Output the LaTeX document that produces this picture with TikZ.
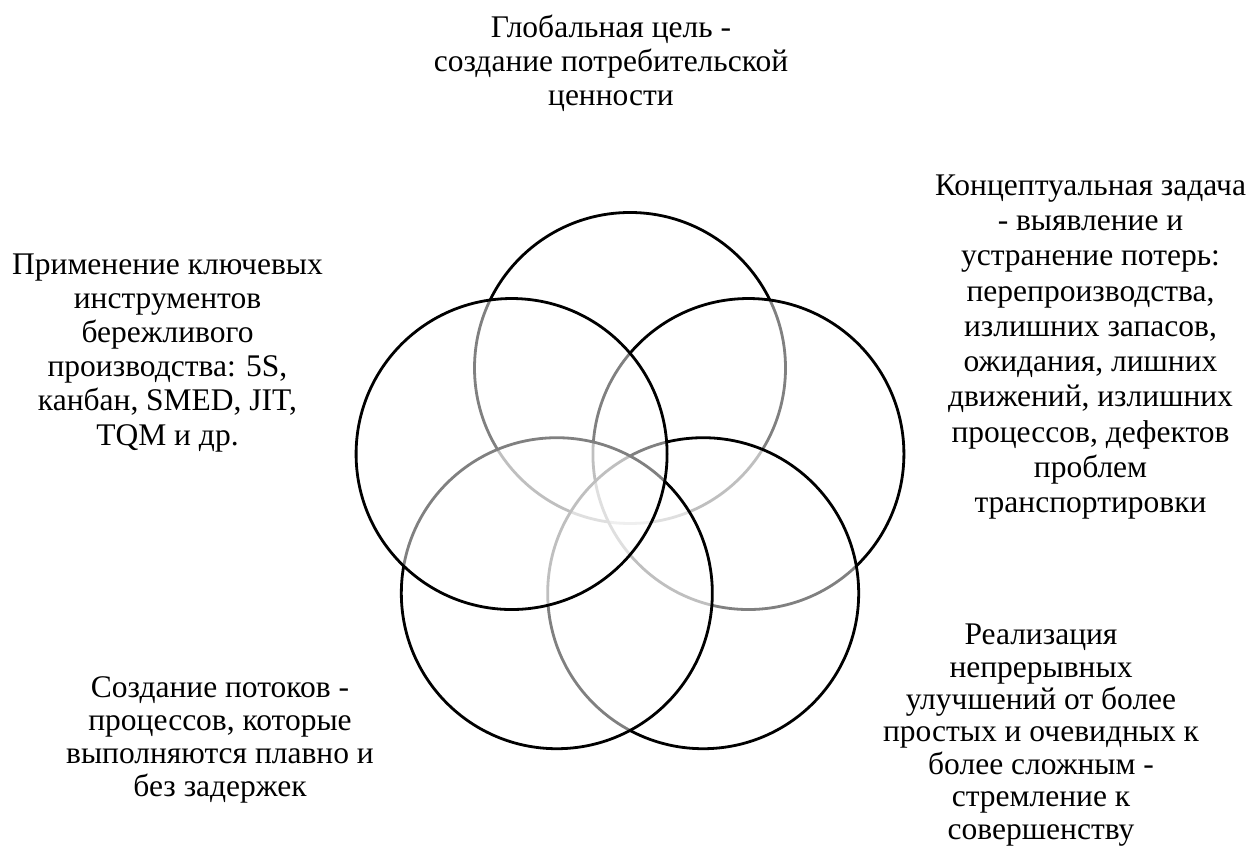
\documentclass[tikz,border=0pt]{standalone}
\usepackage{fontspec}
\setmainfont{Liberation Serif}
\usepackage{tikz}

\begin{document}
\begin{tikzpicture}[x=1pt,y=1pt,
	petal/.style={draw=black,line width=2.8pt,fill=white,fill opacity=0.5},
	lbl/.style={align=center,inner sep=0pt,font=\fontsize{31.5}{#1}\selectfont},
	lbl/.default=34]
	\path[use as bounding box] (0,0) rectangle (1252,848);
	% five circles round a pentagon, each one veiling the ones before it
	\foreach \a in {90,18,-54,-126,162}
		\draw[petal,shift={(630,355.5)}] (\a:124.5) circle (155.5);
	% labels
	\node[lbl=34] (goal) at (611,784.5) {Глобальная цель -\\создание потребительской\\ценности};
	\node[lbl=35.3] (waste) at (1090.5,501) {Концептуальная задача\\- выявление и\\устранение потерь:\\перепроизводства,\\излишних запасов,\\ожидания, лишних\\движений, излишних\\процессов, дефектов\\проблем\\транспортировки};
	\node[lbl=34.2] (tools) at (167.5,495.4) {Применение ключевых\\инструментов\\бережливого\\производства: 5S,\\канбан, SMED, JIT,\\TQM и др.};
	\node[lbl=33] (flow) at (220,108) {Создание потоков -\\процессов, которые\\выполняются плавно и\\без задержек};
	\node[lbl=32.4] (kaizen) at (1041,113) {Реализация\\непрерывных\\улучшений от более\\простых и очевидных к\\более сложным -\\стремление к\\совершенству};
\end{tikzpicture}
\end{document}
